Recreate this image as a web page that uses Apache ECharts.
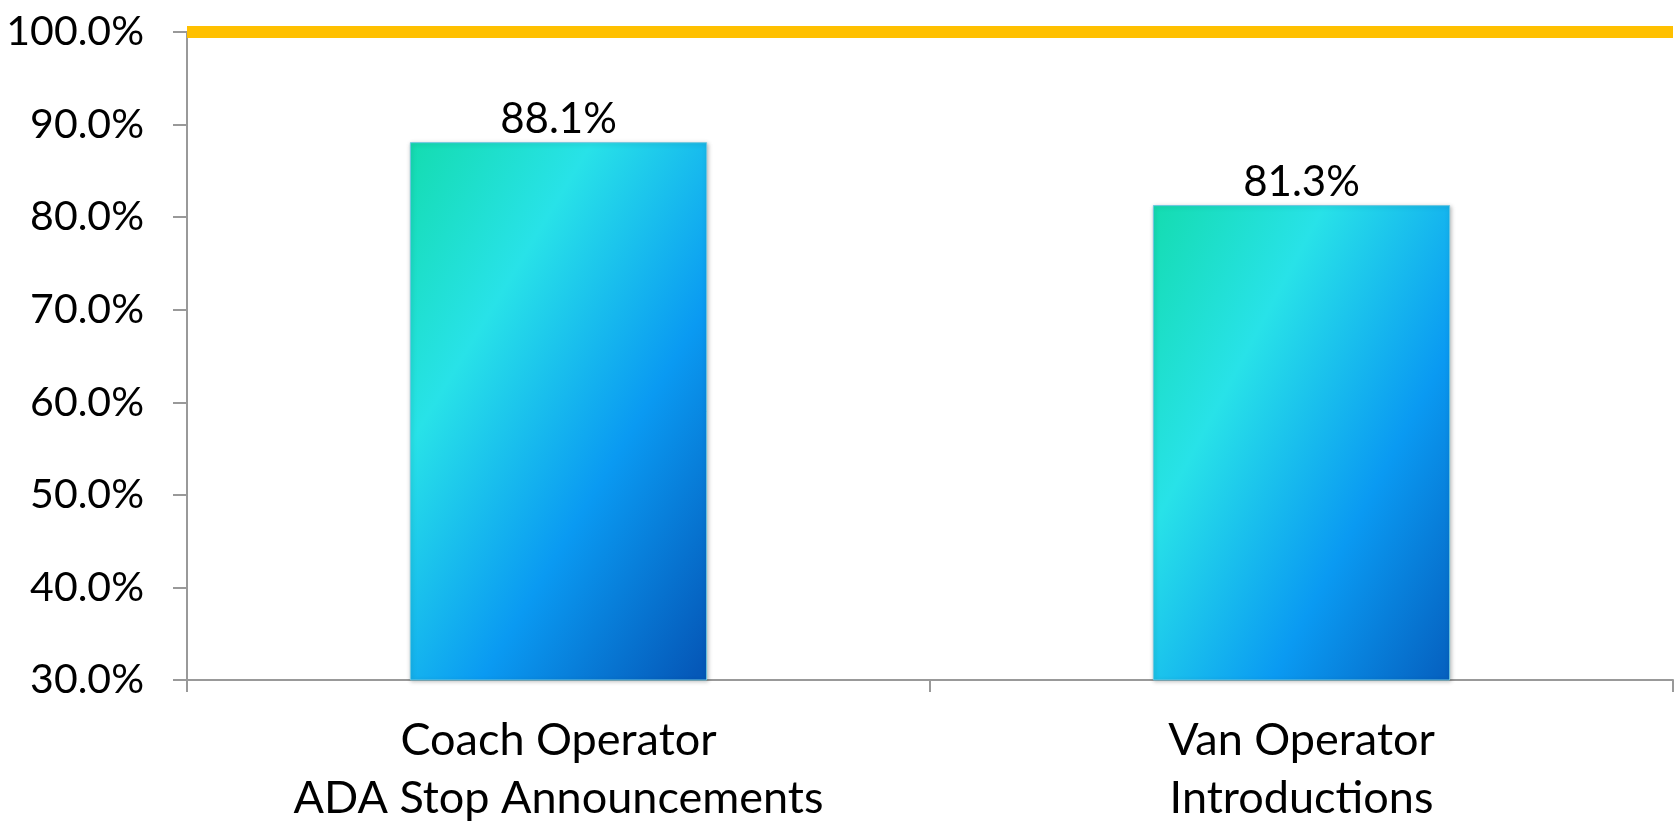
<!DOCTYPE html>
<html>
<head>
<meta charset="utf-8">
<script src="https://cdn.jsdelivr.net/npm/echarts@6/dist/echarts.min.js"></script>
<style>
html,body{margin:0;padding:0;background:#fff;}
#chart{width:1675px;height:821px;}
</style>
</head>
<body>
<div id="chart"></div>
<script>
const categories = ["Coach Operator\nADA Stop Announcements", "Van Operator\nIntroductions"];
const values = [88.1, 81.3];
const targetValue = 100;
const yTicks = { min: 30, max: 100, interval: 10 };

const FONT = "Lato";
const chart = echarts.init(document.getElementById('chart'));
const barGradient = new echarts.graphic.LinearGradient(0, 0, 1.5, 0.5, [
  { offset: 0, color: '#14dcb0' },
  { offset: 0.3, color: '#28e2e8' },
  { offset: 0.65, color: '#0a9af2' },
  { offset: 1, color: '#0558b8' }
]);
chart.setOption({
  animation: false,
  backgroundColor: '#ffffff',
  grid: { left: 187, right: 2, top: 32, bottom: 141, containLabel: false, outerBoundsMode: 'none' },
  xAxis: {
    type: 'category',
    data: categories,
    axisLine: { lineStyle: { color: '#999999', width: 2 } },
    axisTick: { show: true, length: 12, lineStyle: { color: '#999999', width: 2 } },
    axisLabel: { fontFamily: FONT, fontSize: 45, color: '#000', lineHeight: 58, margin: 31 }
  },
  yAxis: {
    type: 'value',
    min: yTicks.min, max: yTicks.max, interval: yTicks.interval,
    splitLine: { show: false },
    axisLine: { show: true, lineStyle: { color: '#999999', width: 2 } },
    axisTick: { show: true, length: 14, lineStyle: { color: '#999999', width: 2 } },
    axisLabel: { fontFamily: FONT, fontSize: 41, color: '#000', margin: 43,
      formatter: v => v.toFixed(1) + '%' }
  },
  series: [{
    type: 'bar',
    data: values,
    barWidth: '40%',
    itemStyle: { color: barGradient, borderColor: '#6cc6e0', borderWidth: 1,
      shadowColor: 'rgba(0,0,0,0.25)', shadowBlur: 4, shadowOffsetX: 1, shadowOffsetY: 1 },
    label: { show: true, position: 'top', distance: 2, fontFamily: FONT, fontSize: 42, color: '#000',
      formatter: p => p.value.toFixed(1) + '%' },
    markLine: {
      silent: true,
      symbol: 'none',
      label: { show: false },
      lineStyle: { color: '#FFC000', width: 12, type: 'solid' },
      data: [{ yAxis: targetValue }]
    }
  }]
});
</script>
</body>
</html>
